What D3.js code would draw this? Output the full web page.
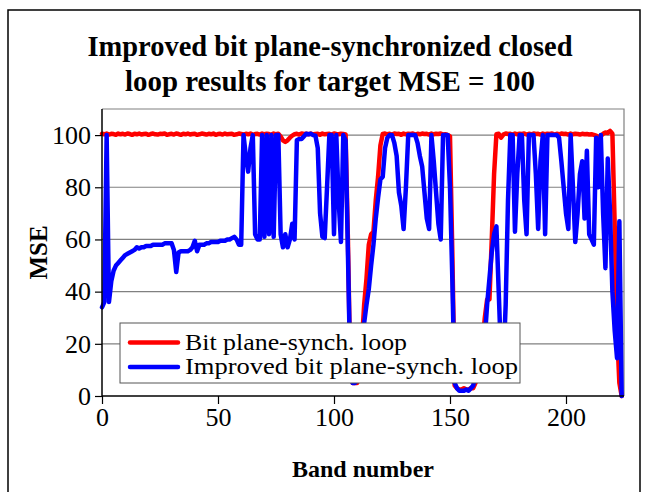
<!DOCTYPE html>
<html>
<head>
<meta charset="utf-8">
<script src="https://cdn.jsdelivr.net/npm/d3@7"></script>
<style>
  html, body { margin: 0; padding: 0; background: #fff; }
  svg { display: block; }
  text { font-family: "Liberation Serif", "Times New Roman", serif; fill: #000; }
</style>
</head>
<body>
<svg id="chart" width="647" height="492"></svg>
<script>
// Band numbers (0 .. 224)
const bands = d3.range(225);

// MSE per band, bit plane-synchronized closed loop
const msePlaneSync = [
  100.5, 100.3, 100.6, 100.2, 100.5, 100.4, 100.1, 100.6, 100.3, 100.5,
  100.2, 100.6, 100.4, 100.1, 100.5, 100.3, 100.6, 100.2, 100.4, 100.5,
  100.1, 100.4, 100.6, 100.3, 100.2, 100.5, 100.4, 100.6, 100.1, 100.3,
  100.5, 100.2, 100.6, 100.4, 100.1, 100.5, 100.3, 100.6, 100.2, 100.4,
  100.5, 100.1, 100.3, 100.6, 100.4, 100.2, 100.5, 100.3, 100.6, 100.1,
  100.4, 100.5, 100.2, 100.6, 100.3, 100.4, 100.5, 100.1, 100.3, 100.6,
  100.4, 100.2, 100.5, 100.3, 100.6, 100.1, 100.4, 100.5, 100.2, 100.6,
  100.3, 100.5, 100.4, 100.1, 100.6, 100.3, 100.5, 99.5, 98.0, 97.4,
  98.0, 99.0, 99.8, 100.3, 100.5, 100.2, 100.6, 100.4, 100.5, 100.3,
  100.6, 100.2, 100.4, 100.5, 100.1, 100.6, 100.3, 100.4, 100.5, 100.2,
  100.6, 100.4, 100.3, 100.5, 100.4, 100.2, 60, 10, 5, 5,
  5, 8, 20, 35, 45, 58, 62, 63, 75, 84,
  96, 100.4, 100.6, 100.3, 100.5, 100.2, 100.6, 100.4, 100.5, 100.1,
  100.6, 100.3, 100.5, 100.4, 100.6, 100.2, 100.5, 100.3, 100.6, 100.4,
  100.5, 100.2, 100.6, 100.3, 100.5, 100.4, 100.6, 100.2, 100.3, 100.1,
  99.5, 55, 4, 3, 2.5, 2.5, 3, 2.5, 2.5, 3,
  3, 5, 10, 15, 20, 30, 37, 37, 60, 85,
  100.3, 100.5, 99, 100.2, 100.6, 100.4, 100.5, 100.2, 100.6, 100.3,
  100.5, 100.4, 100.6, 100.2, 100.5, 100.3, 100.6, 100.4, 100.5, 100.2,
  100.6, 100.3, 100.5, 100.4, 100.6, 100.2, 100.5, 100.3, 100.6, 100.4,
  100.5, 100.2, 100.6, 100.3, 100.5, 100.4, 100.2, 100.5, 100.3, 100.4,
  100.2, 100.3, 100.1, 99.8, 99.2, 99.6, 100.5, 101, 100.8, 101.6,
  100.5, 65, 25, 5, 0
];

// MSE per band, improved bit plane-synchronized closed loop
const mseImproved = [
  34, 36, 100, 36, 44, 48, 50, 51, 52, 53,
  54, 54.5, 55, 55.5, 56, 57, 56.5, 57, 57, 57.5,
  57.5, 57.5, 58, 58, 58, 58, 58, 58.5, 58.5, 58.5,
  58.5, 56, 47.5, 55, 55.5, 55.5, 55.5, 55.5, 56, 57,
  59.5, 55.5, 58, 58, 58, 58.5, 58.5, 59, 59, 59,
  59, 59.5, 59.5, 59.5, 60, 60, 60.5, 61, 60, 58,
  58, 100, 92, 86, 95, 100, 62, 60, 60, 100,
  61, 100, 62, 100, 61, 100, 100, 62, 57, 62,
  57, 60, 66, 60, 98, 98.5, 98.5, 99.5, 100.5, 100.3,
  100.5, 100, 99.8, 95, 70, 61, 60.5, 80, 100, 100,
  62, 100, 75, 59, 100, 98, 55, 10, 5, 5,
  6, 10, 20, 28, 35, 41, 50, 58, 68, 76,
  83, 84, 95, 99, 100, 100, 97, 92, 78, 73,
  64, 80, 100, 100, 100, 100, 97, 92, 88, 78,
  68, 64, 100, 90, 78, 66, 60, 100, 100, 100,
  80, 45, 5, 3, 2, 2, 2, 2.5, 2, 3,
  4, 8, 10, 12, 15, 22, 35, 45, 55, 62,
  65, 40, 15, 12, 35, 75, 100, 100, 63, 85,
  100, 100, 75, 62, 100, 100, 100, 85, 64, 90,
  100, 62, 100, 100, 100, 100, 100, 99, 90, 80,
  70, 64, 100, 80, 59, 70, 85, 90, 68, 94,
  62, 60, 58, 99, 80, 100, 70, 49, 91, 70,
  40, 25, 14.5, 67, 0
];

const xTicks = [0, 50, 100, 150, 200];
const yTicks = [0, 20, 40, 60, 80, 100];

const titleLines = [
  "Improved bit plane-synchronized closed",
  "loop results for target MSE = 100"
];
const seriesNames = ["Bit plane-synch. loop", "Improved bit plane-synch. loop"];
const seriesColors = ["#ff0000", "#0000ff"];

const svg = d3.select("#chart");

// chart frame
svg.append("rect")
  .attr("x", 8).attr("y", 10).attr("width", 632).attr("height", 500)
  .attr("fill", "#fff").attr("stroke", "#000").attr("stroke-width", 1.5);

const plot = { left: 102, right: 624, top: 109, bottom: 396 };

const x = d3.scaleLinear().domain([0, 225]).range([plot.left, plot.right]);
const y = d3.scaleLinear().domain([0, 110]).range([plot.bottom, plot.top]);

// horizontal gridlines
svg.append("g")
  .selectAll("line")
  .data(yTicks.filter(d => d > 0))
  .join("line")
  .attr("x1", plot.left).attr("x2", plot.right)
  .attr("y1", d => y(d)).attr("y2", d => y(d))
  .attr("stroke", "#808080").attr("stroke-width", 1.2);

// plot area outline (top and right)
svg.append("path")
  .attr("d", `M${plot.left},${plot.top}H${plot.right}V${plot.bottom}`)
  .attr("fill", "none").attr("stroke", "#808080").attr("stroke-width", 1.2);

// series lines
const line = d3.line()
  .x((d, i) => x(bands[i]))
  .y(d => y(d));

[msePlaneSync, mseImproved].forEach((vals, k) => {
  svg.append("path")
    .datum(vals)
    .attr("d", line)
    .attr("fill", "none")
    .attr("stroke", seriesColors[k])
    .attr("stroke-width", 4.5)
    .attr("stroke-linejoin", "round")
    .attr("stroke-linecap", "round");
});

// x axis
const xAxis = svg.append("g")
  .attr("transform", `translate(0,${plot.bottom})`)
  .call(d3.axisBottom(x).tickValues(xTicks).tickSize(8).tickPadding(4).tickFormat(d3.format("d")));
xAxis.select(".domain").attr("stroke", "#000").attr("stroke-width", 1.5)
  .attr("d", `M${plot.left},0H${plot.right}`);
xAxis.selectAll(".tick line").attr("stroke", "#000").attr("stroke-width", 1.2);
xAxis.selectAll(".tick text")
  .attr("font-family", "'Liberation Serif', serif")
  .attr("font-size", 26).attr("fill", "#000");

// y axis
const yAxis = svg.append("g")
  .attr("transform", `translate(${plot.left},0)`)
  .call(d3.axisLeft(y).tickValues(yTicks).tickSize(7).tickPadding(4).tickFormat(d3.format("d")));
yAxis.select(".domain").attr("stroke", "#000").attr("stroke-width", 1.5)
  .attr("d", `M0,${plot.top}V${plot.bottom}`);
yAxis.selectAll(".tick line").attr("stroke", "#000").attr("stroke-width", 1.2);
yAxis.selectAll(".tick text")
  .attr("font-family", "'Liberation Serif', serif")
  .attr("font-size", 26).attr("fill", "#000");

// axis titles
svg.append("text")
  .attr("x", (plot.left + plot.right) / 2).attr("y", 477)
  .attr("text-anchor", "middle")
  .attr("font-size", 24).attr("font-weight", "bold")
  .text("Band number");

svg.append("text")
  .attr("transform", `translate(47,${(plot.top + plot.bottom) / 2}) rotate(-90)`)
  .attr("text-anchor", "middle")
  .attr("font-size", 25).attr("font-weight", "bold")
  .text("MSE");

// chart title
const titleWidths = [485, 410];
svg.append("g")
  .selectAll("text")
  .data(titleLines)
  .join("text")
  .attr("x", 330).attr("y", (d, i) => 56 + i * 35)
  .attr("text-anchor", "middle")
  .attr("font-size", 29).attr("font-weight", "bold")
  .attr("textLength", (d, i) => titleWidths[i])
  .attr("lengthAdjust", "spacingAndGlyphs")
  .text(d => d);

// legend
const legendWidths = [222, 333];
const legend = svg.append("g");
legend.append("rect")
  .attr("x", 120).attr("y", 323).attr("width", 400).attr("height", 60)
  .attr("fill", "#fff").attr("stroke", "#555").attr("stroke-width", 1);
seriesNames.forEach((name, k) => {
  const cy = 342.5 + k * 24.5;
  legend.append("line")
    .attr("x1", 130).attr("x2", 178).attr("y1", cy).attr("y2", cy)
    .attr("stroke", seriesColors[k]).attr("stroke-width", 4.5).attr("stroke-linecap", "round");
  legend.append("text")
    .attr("x", 185).attr("y", cy + 7)
    .attr("font-size", 24)
    .attr("textLength", legendWidths[k])
    .attr("lengthAdjust", "spacingAndGlyphs")
    .text(name);
});
</script>
</body>
</html>
